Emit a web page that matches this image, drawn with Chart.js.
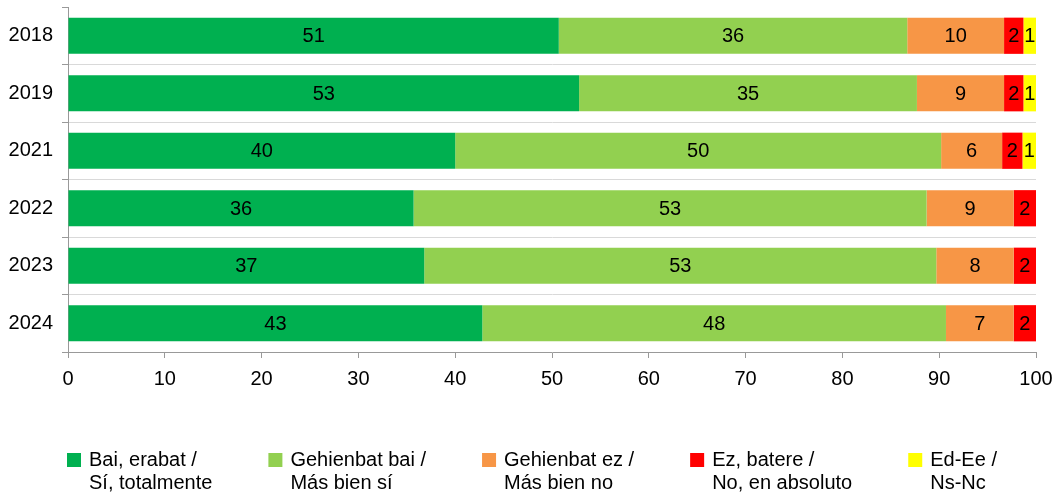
<!DOCTYPE html>
<html>
<head>
<meta charset="utf-8">
<script src="https://cdn.jsdelivr.net/npm/chart.js@4/dist/chart.umd.min.js"></script>
<style>
  html, body { margin: 0; padding: 0; background: #fff; }
  #wrap { width: 1057px; height: 494px; }
</style>
</head>
<body>
<div id="wrap"><canvas id="chart" width="1057" height="494"></canvas></div>
<script>
const years = ["2018", "2019", "2021", "2022", "2023", "2024"];
const totalmente = [50.7, 52.8, 40.0, 35.7, 36.8, 42.8];
const masBienSi = [36.0, 34.9, 50.2, 53.0, 52.9, 47.9];
const masBienNo = [10.0, 9.0, 6.3, 9.0, 8.0, 7.0];
const enAbsoluto = [2.0, 2.0, 2.1, 2.3, 2.3, 2.3];
const nsNc = [1.3, 1.3, 1.4, 0, 0, 0];
const seriesLabels = [
    ["Bai, erabat /", "Sí, totalmente"],
    ["Gehienbat bai /", "Más bien sí"],
    ["Gehienbat ez /", "Más bien no"],
    ["Ez, batere /", "No, en absoluto"],
    ["Ed-Ee /", "Ns-Nc"]
];
const seriesColors = ["#00B050", "#92D050", "#F79646", "#FF0000", "#FFFF00"];

const FONT = "Liberation Sans, Arial, sans-serif";

// value labels in the middle of each segment
const barLabels = {
    id: "barLabels",
    afterDatasetsDraw(chart) {
        const ctx = chart.ctx;
        ctx.save();
        ctx.font = "20px " + FONT;
        ctx.fillStyle = "#000";
        ctx.textAlign = "center";
        ctx.textBaseline = "middle";
        chart.data.datasets.forEach((ds, i) => {
            const meta = chart.getDatasetMeta(i);
            meta.data.forEach((bar, j) => {
                const v = ds.data[j];
                if (!v) return;
                ctx.fillText(Math.round(v), (bar.x + bar.base) / 2, bar.y + 1);
            });
        });
        ctx.restore();
    }
};

// two-line legend below the chart
const bottomLegend = {
    id: "bottomLegend",
    afterDraw(chart) {
        const ctx = chart.ctx;
        ctx.save();
        ctx.font = "20px " + FONT;
        ctx.textBaseline = "middle";
        let x = 67;
        const y = 460;
        chart.data.datasets.forEach((ds) => {
            ctx.fillStyle = ds.backgroundColor;
            ctx.fillRect(x, y - 7, 14, 14);
            ctx.fillStyle = "#000";
            let w = 0;
            ds.label.forEach((line, k) => {
                ctx.fillText(line, x + 22, y + k * 23);
                w = Math.max(w, ctx.measureText(line).width);
            });
            x += 22 + w + 56;
        });
        ctx.restore();
    }
};

const sets = [totalmente, masBienSi, masBienNo, enAbsoluto, nsNc];

new Chart(document.getElementById("chart"), {
    type: "bar",
    data: {
        labels: years,
        datasets: sets.map((d, i) => ({
            label: seriesLabels[i],
            data: d,
            backgroundColor: seriesColors[i],
            borderWidth: 0,
            barPercentage: 0.63,
            categoryPercentage: 1
        }))
    },
    options: {
        indexAxis: "y",
        responsive: false,
        animation: false,
        layout: { padding: { left: 0, right: 21, top: 7, bottom: 102 } },
        plugins: {
            legend: { display: false },
            tooltip: { enabled: false }
        },
        scales: {
            x: {
                stacked: true,
                min: 0,
                max: 100,
                ticks: { stepSize: 10, color: "#000", font: { family: FONT, size: 20 }, padding: 9 },
                grid: { drawOnChartArea: false, tickColor: "#999", tickLength: 6 },
                border: { color: "#999" },
                afterFit(scale) {
                    scale.height = 40;
                    scale.paddingLeft = 0;
                    scale.paddingRight = 0;
                }
            },
            y: {
                stacked: true,
                ticks: { color: "#000", font: { family: FONT, size: 20 }, padding: 9 },
                grid: {
                    color: (c) => (c.index > 0 && c.index < years.length) ? "#d9d9d9" : "rgba(0,0,0,0)",
                    tickColor: "#999",
                    tickLength: 6
                },
                border: { color: "#999" },
                afterFit(scale) {
                    scale.width = 68;
                    scale.paddingTop = 0;
                    scale.paddingBottom = 0;
                }
            }
        }
    },
    plugins: [barLabels, bottomLegend]
});
</script>
</body>
</html>
